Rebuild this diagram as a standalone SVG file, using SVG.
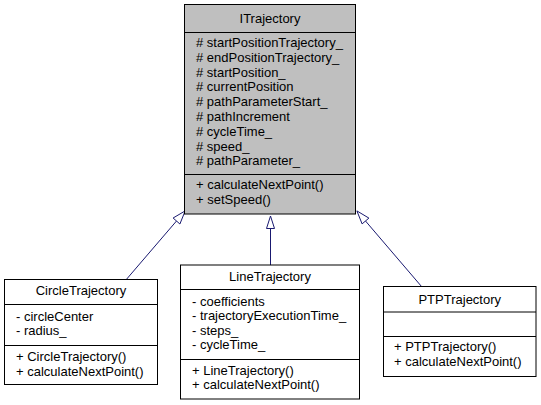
<svg xmlns="http://www.w3.org/2000/svg" width="541" height="405" viewBox="0 0 541 405">
<style>
text{font-family:"Liberation Sans",Arial,sans-serif;font-size:13px;fill:#000}
.t{text-anchor:middle}
.box{fill:#fff;stroke:#000;stroke-width:1}
.base{fill:#bfbfbf;stroke:#000;stroke-width:1}
.div{stroke:#000;stroke-width:1}
.edge{fill:none;stroke:#191970;stroke-width:1}
.head{fill:#fff;stroke:#191970;stroke-width:1}
</style>
<rect width="541" height="405" fill="#fff"/>
<g id="connectors">
<path class="edge" d="M126.3,279.5L176.5,221"/>
<polygon class="head" points="185.2,210.9 179.9,224 173.1,218"/>
<path class="edge" d="M270.5,265L270.5,228.5"/>
<polygon class="head" points="270.5,216 266.5,228.5 274.5,228.5"/>
<path class="edge" d="M421.7,286.7L365.5,221"/>
<polygon class="head" points="356.9,210.9 368.9,218.1 362.1,223.9"/>
</g>
<g id="ITrajectory">
<rect class="base" x="184.5" y="4.5" width="171" height="209.5"/>
<line class="div" x1="184.5" y1="32.5" x2="355.5" y2="32.5"/>
<line class="div" x1="184.5" y1="174.5" x2="355.5" y2="174.5"/>
<text class="t" x="270" y="23">ITrajectory</text>
<text x="196" y="47">#&#160;startPositionTrajectory_</text>
<text x="196" y="61.8">#&#160;endPositionTrajectory_</text>
<text x="196" y="76.6">#&#160;startPosition_</text>
<text x="196" y="91.4">#&#160;currentPosition</text>
<text x="196" y="106.2">#&#160;pathParameterStart_</text>
<text x="196" y="121">#&#160;pathIncrement</text>
<text x="196" y="135.8">#&#160;cycleTime_</text>
<text x="196" y="150.6">#&#160;speed_</text>
<text x="196" y="165.4">#&#160;pathParameter_</text>
<text x="196" y="189">+&#160;calculateNextPoint()</text>
<text x="196" y="203.8">+&#160;setSpeed()</text>
</g>
<g id="CircleTrajectory">
<rect class="box" x="4.5" y="279.5" width="153" height="105"/>
<line class="div" x1="4.5" y1="304.5" x2="157.5" y2="304.5"/>
<line class="div" x1="4.5" y1="345.5" x2="157.5" y2="345.5"/>
<text class="t" x="81" y="295">CircleTrajectory</text>
<text x="16" y="321">-&#160;circleCenter</text>
<text x="16" y="334.5">-&#160;radius_</text>
<text x="16" y="360.5">+&#160;CircleTrajectory()</text>
<text x="16" y="375.5">+&#160;calculateNextPoint()</text>
</g>
<g id="LineTrajectory">
<rect class="box" x="180.5" y="265" width="179" height="134"/>
<line class="div" x1="180.5" y1="289.5" x2="359.5" y2="289.5"/>
<line class="div" x1="180.5" y1="359.5" x2="359.5" y2="359.5"/>
<text class="t" x="270" y="280.5">LineTrajectory</text>
<text x="192" y="305.5">-&#160;coefficients</text>
<text x="192" y="320">-&#160;trajectoryExecutionTime_</text>
<text x="192" y="334.5">-&#160;steps_</text>
<text x="192" y="349">-&#160;cycleTime_</text>
<text x="192" y="374.5">+&#160;LineTrajectory()</text>
<text x="192" y="389">+&#160;calculateNextPoint()</text>
</g>
<g id="PTPTrajectory">
<rect class="box" x="383.5" y="286.5" width="152.5" height="90"/>
<line class="div" x1="383.5" y1="312" x2="536" y2="312"/>
<line class="div" x1="383.5" y1="336.5" x2="536" y2="336.5"/>
<text class="t" x="459.75" y="303.5">PTPTrajectory</text>
<text x="394" y="351">+&#160;PTPTrajectory()</text>
<text x="394" y="365.5">+&#160;calculateNextPoint()</text>
</g>
</svg>
